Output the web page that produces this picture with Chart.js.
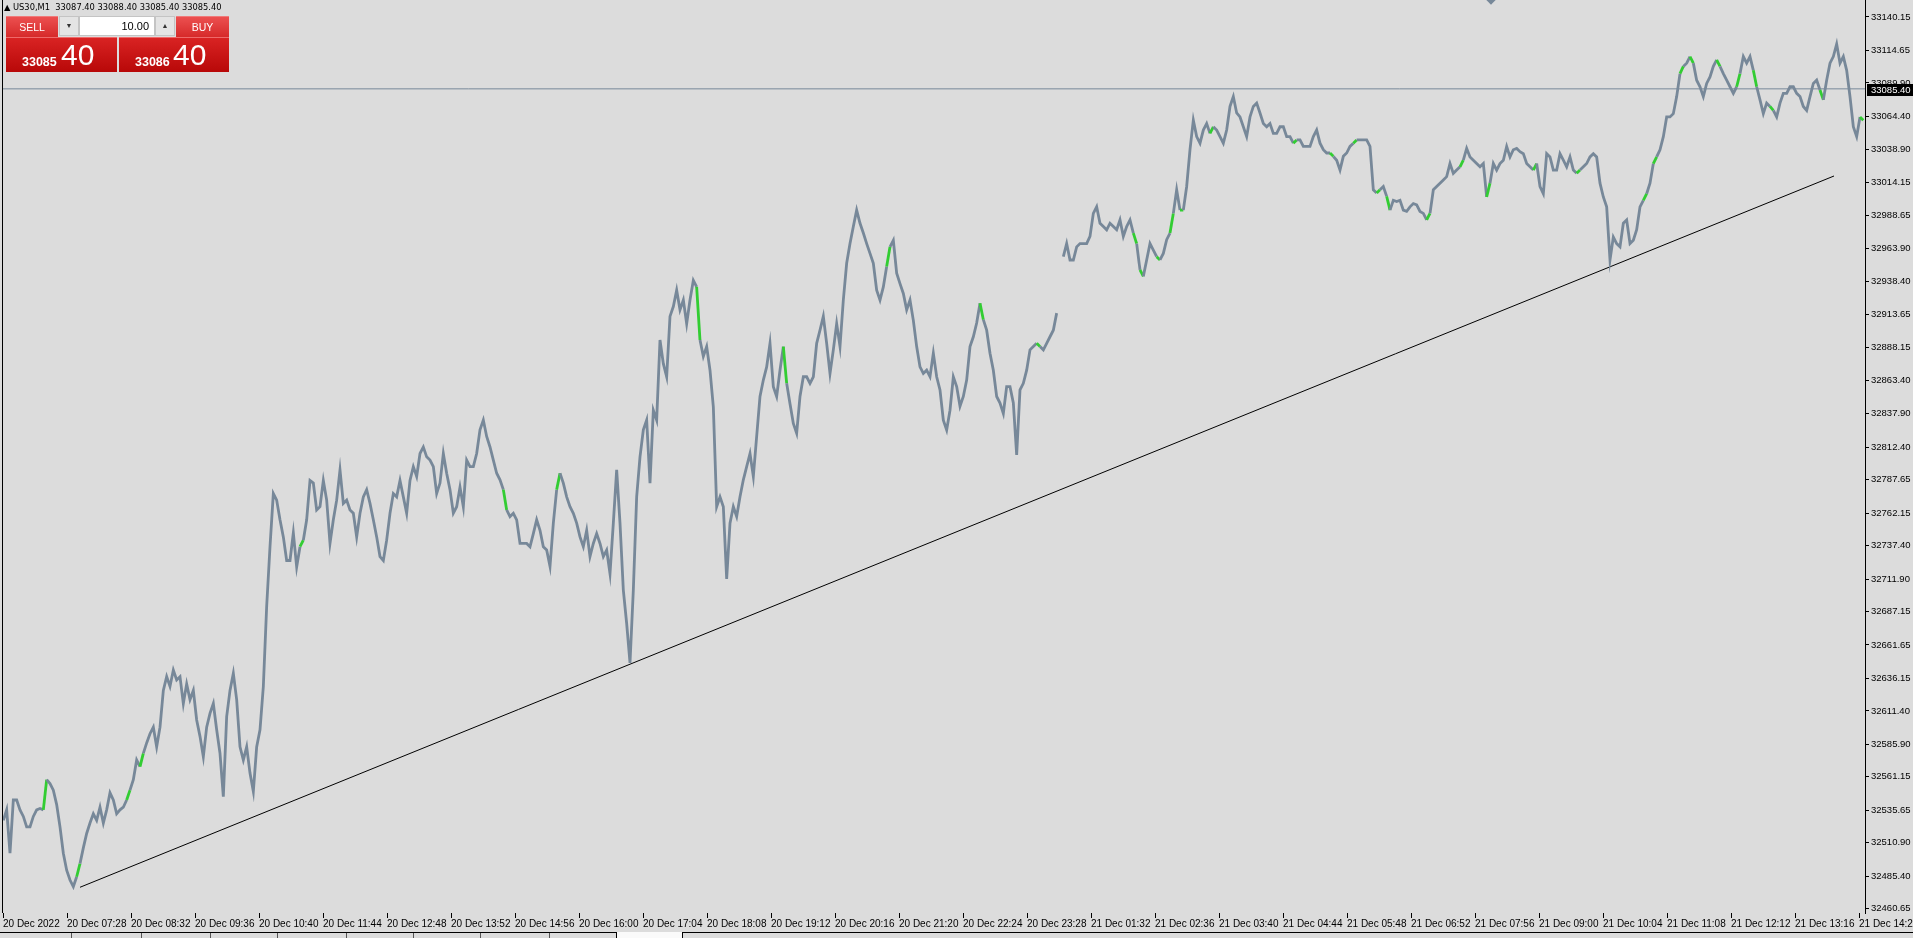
<!DOCTYPE html>
<html>
<head>
<meta charset="utf-8">
<title>US30,M1</title>
<script src="https://cdn.jsdelivr.net/npm/chart.js@4.4.0/dist/chart.umd.min.js"></script>
<style>
  html, body { margin: 0; padding: 0; background: #dcdcdc; overflow: hidden; }
  #wrap { position: relative; width: 1913px; height: 938px; }
  #chart { position: absolute; left: 0; top: 0; }
  .ov { position: absolute; box-sizing: border-box; font-family: "Liberation Sans", Arial, sans-serif; }
  #sym { left: 4px; top: 1px; font: 8.3px "DejaVu Sans", sans-serif; color: #000; white-space: pre; line-height: 12px; }
  .btn { height: 21px; color: #fff; font-size: 10.5px; text-align: center; line-height: 21px;
         background: linear-gradient(#ec5050, #d62a2a); border-top: 1px solid #f07a7a; }
  #sell { left: 6px; top: 16px; width: 52px; }
  #buy { left: 176px; top: 16px; width: 53px; }
  .spin { top: 16px; width: 20px; height: 20px; background: #e4e4e4; border: 1px solid #c4c4c4; color: #333;
          font-size: 7px; text-align: center; line-height: 18px; }
  #dn { left: 59px; }
  #up { left: 155px; }
  #lot { left: 79px; top: 16px; width: 76px; height: 20px; background: #fff; border: 1px solid #c4c4c4;
         font-size: 11px; text-align: right; padding-right: 5px; line-height: 18px; color: #000; }
  .big { top: 37px; height: 35px; background: linear-gradient(#d92323, #b80808); border-top: 1px solid #ee6a6a; color: #fff; }
  #bsell { left: 6px; width: 111px; }
  #bbuy { left: 119px; width: 110px; }
  .sm { position: absolute; top: 17px; font-weight: bold; font-size: 12.5px; }
  .lg { position: absolute; top: 1px; font-size: 30px; line-height: 32px; }
  #shift { left: 1487px; top: -5px; width: 8px; height: 8px; background: #778899; transform: rotate(45deg); }
  .tabline { top: 932px; height: 1px; background: #000; }
  #tabact { left: 616px; top: 932px; width: 67px; height: 6px; background: #fafafa; border-left: 1px solid #000; border-right: 1px solid #000; }
  .tabsep { top: 933px; width: 1px; height: 5px; background: #555; }
</style>
</head>
<body>
<div id="wrap">
  <canvas id="chart" width="1913" height="938"></canvas>
  <div id="sym" class="ov">&#9650; US30,M1  33087.40 33088.40 33085.40 33085.40</div>
  <div id="sell" class="ov btn">SELL</div>
  <div id="dn" class="ov spin">&#9660;</div>
  <div id="lot" class="ov">10.00</div>
  <div id="up" class="ov spin">&#9650;</div>
  <div id="buy" class="ov btn">BUY</div>
  <div id="bsell" class="ov big"><span class="sm" style="left:16px">33085</span><span class="lg" style="left:55px">40</span></div>
  <div id="bbuy" class="ov big"><span class="sm" style="left:16px">33086</span><span class="lg" style="left:54px">40</span></div>
  <div id="shift" class="ov"></div>
  <div class="ov tabline" style="left:0;width:616px"></div>
  <div class="ov tabline" style="left:683px;width:1230px"></div>
  <div id="tabact" class="ov"></div>
  <div class="ov tabsep" style="left:71px"></div>
  <div class="ov tabsep" style="left:141px"></div>
  <div class="ov tabsep" style="left:210px"></div>
  <div class="ov tabsep" style="left:277px"></div>
  <div class="ov tabsep" style="left:346px"></div>
  <div class="ov tabsep" style="left:413px"></div>
  <div class="ov tabsep" style="left:480px"></div>
  <div class="ov tabsep" style="left:549px"></div>
</div>
<script>
// time axis labels, one every 64 bars (M1)
const timeLabels = ["20 Dec 2022", "20 Dec 07:28", "20 Dec 08:32", "20 Dec 09:36", "20 Dec 10:40", "20 Dec 11:44",
  "20 Dec 12:48", "20 Dec 13:52", "20 Dec 14:56", "20 Dec 16:00", "20 Dec 17:04", "20 Dec 18:08", "20 Dec 19:12",
  "20 Dec 20:16", "20 Dec 21:20", "20 Dec 22:24", "20 Dec 23:28", "21 Dec 01:32", "21 Dec 02:36", "21 Dec 03:40",
  "21 Dec 04:44", "21 Dec 05:48", "21 Dec 06:52", "21 Dec 07:56", "21 Dec 09:00", "21 Dec 10:04", "21 Dec 11:08",
  "21 Dec 12:12", "21 Dec 13:16", "21 Dec 14:20"];

// price scale labels
const priceLabels = [33140.15, 33114.65, 33089.90, 33064.40, 33038.90, 33014.15, 32988.65, 32963.90, 32938.40,
  32913.65, 32888.15, 32863.40, 32837.90, 32812.40, 32787.65, 32762.15, 32737.40, 32711.90, 32687.15, 32661.65,
  32636.15, 32611.40, 32585.90, 32561.15, 32535.65, 32510.90, 32485.40, 32460.65];

// price path, one reading every 10/3 bars
const pricesMorning = [
  32528, 32536, 32503, 32543.5, 32543.5, 32536, 32531, 32523, 32523, 32531,
  32536, 32537, 32536, 32559, 32556, 32551, 32540, 32523, 32503, 32490,
  32482.5, 32477.5, 32485, 32495, 32507, 32518, 32526, 32533, 32528, 32538,
  32526, 32536, 32549, 32543.5, 32533, 32536, 32538, 32543.5, 32551, 32559,
  32574, 32569, 32579, 32587, 32594, 32599, 32584, 32599, 32627, 32637.5,
  32630, 32642.5, 32635, 32637.5, 32617, 32632, 32620, 32627, 32604.5, 32592,
  32576.5, 32599, 32609.5, 32617, 32597, 32579, 32546, 32607, 32627, 32640,
  32620, 32584, 32574, 32584, 32564, 32550, 32584, 32597, 32630, 32691,
  32736.5, 32777, 32772, 32757, 32744, 32726, 32726, 32747, 32721, 32736.5,
  32741.5, 32757, 32787, 32785, 32764.5, 32767, 32787, 32772, 32739, 32757,
  32772, 32795, 32769.5, 32772, 32764.5, 32762, 32744, 32762, 32774.5, 32780,
  32769.5, 32757, 32744, 32729, 32726, 32741.5, 32762, 32777, 32774.5, 32787,
  32774.5, 32762, 32787, 32797.5, 32790, 32807.5, 32812.5, 32805, 32802.5, 32797.5,
  32777, 32785, 32807.5, 32792.5, 32780, 32762, 32767, 32782, 32767, 32802.5,
  32797.5];
const pricesAfternoon = [
  32797.5, 32807.5, 32825.5, 32833, 32820.5, 32812.5, 32802.5, 32792.5, 32787.5, 32780,
  32764.5, 32759.5, 32762, 32757, 32739, 32739, 32739, 32736.5, 32746.5, 32757,
  32749, 32736.5, 32734, 32721.5, 32754.5, 32780, 32792.5, 32785, 32774.5, 32767,
  32762, 32754.5, 32744, 32736.5, 32749, 32729, 32739, 32746.5, 32739, 32729,
  32734, 32716, 32754.5, 32795, 32754.5, 32703.5, 32678, 32648, 32703.5, 32774.5,
  32805, 32825.5, 32833, 32785, 32840.5, 32833, 32894, 32876, 32866, 32912,
  32919.5, 32932, 32917, 32924.5, 32906.5, 32924.5, 32939.5, 32934.5, 32894, 32881.5,
  32889, 32871, 32843, 32767, 32774.5, 32767, 32712, 32754.5, 32767, 32759.5,
  32774.5, 32787.5, 32797.5, 32807.5, 32790, 32820.5, 32851, 32863.5, 32873.5, 32891.5,
  32858.5, 32851, 32871, 32889, 32861, 32845.5, 32830.5, 32823, 32851, 32866,
  32866, 32861, 32866, 32891.5, 32901.5, 32912, 32891.5, 32868.5, 32886.5, 32906.5,
  32889, 32924.5, 32952.5, 32967.5, 32980.5, 32993, 32983, 32975.5, 32967.5, 32960,
  32952.5, 32932, 32924.5, 32934.5, 32950, 32965, 32970, 32945, 32937, 32929.5,
  32917, 32924.5, 32909, 32889, 32873.5, 32868.5, 32871, 32866, 32884, 32866,
  32856];
const pricesNight = [
  32833, 32825.5, 32840.5, 32866, 32858.5, 32843.5, 32851, 32863.5, 32889, 32896.5,
  32907, 32922, 32909.5, 32901.5, 32884, 32871, 32851, 32846, 32838, 32858.5,
  32858.5, 32846, 32806.5, 32856, 32861, 32871, 32886.5, 32889, 32891.5, 32889,
  32886.5, 32891.5, 32896.5, 32901.5, 32914.5, null, 32957.5, 32967.5, 32955, 32955,
  32965, 32967.5, 32967.5, 32967.5, 32973, 32990.5, 32995.5, 32983, 32980.5, 32978,
  32983, 32980.5, 32978, 32985.5, 32973, 32980.5, 32985.5, 32975.5, 32967.5, 32947.5,
  32942.5, 32955, 32967.5, 32962.5, 32957.5, 32955, 32960, 32970.5, 32975.5, 32990.5,
  33008.5, 32993, 32993, 33011, 33039, 33061.5, 33049, 33044, 33054, 33059,
  33051.5, 33056.5, 33054, 33049, 33044, 33054, 33072, 33079.5, 33067, 33064,
  33056.5, 33049, 33064, 33072, 33074.5, 33067, 33059, 33056.5, 33059, 33051.5,
  33051.5, 33056.5, 33056.5, 33049, 33049, 33044, 33046.5, 33046.5, 33041.5, 33041.5,
  33041.5, 33049, 33054, 33044, 33039, 33036.5, 33036.5, 33034, 33031, 33023.5,
  33034, 33036.5, 33041.5, 33044, 33046.5, 33046.5, 33046.5, 33046.5, 33041.5, 33008.5,
  33006, 33008.5, 33011, 33003.5, 32993, 33000.5, 32999.5, 33000.5];
const pricesNextDay = [
  32993, 32992, 32995.5, 32998, 32997, 32992, 32990.5, 32985.5, 32990.5, 33008.5,
  33011, 33013.5, 33016, 33018.5, 33028.5, 33021, 33023.5, 33026, 33031, 33040,
  33033.5, 33031, 33028.5, 33026, 33028.5, 33003, 33013.5, 33028.5, 33023.5, 33028.5,
  33031, 33041.5, 33033.5, 33039, 33040, 33037.5, 33036, 33028.5, 33026, 33023.5,
  33028.5, 33011, 33005.5, 33036, 33033.5, 33023.5, 33023.5, 33036, 33031, 33026,
  33033.5, 33023.5, 33021, 33023.5, 33026, 33028.5, 33033.5, 33036, 33033.5, 33013.5,
  33003, 32995.5, 32955, 32972.5, 32967.5, 32965, 32983, 32985.5, 32967.5, 32970,
  32978, 32995.5, 33000.5, 33005.5, 33013.5, 33028.5, 33033.5, 33039, 33049, 33064,
  33064, 33066.5, 33079.5, 33097, 33102.5, 33105, 33110, 33105, 33092, 33087,
  33079.5, 33089.5, 33094.5, 33102.5, 33107.5, 33102.5, 33097, 33092, 33087, 33082,
  33087, 33097, 33110, 33105, 33110, 33099.5, 33087, 33077, 33066.5, 33074.5,
  33072, 33069, 33064, 33074.5, 33082, 33082, 33087, 33087, 33082, 33079.5,
  33072, 33069, 33079.5, 33089.5, 33092, 33084.5, 33077, 33092, 33105, 33110,
  33119.5, 33105, 33110, 33099.5, 33079.5, 33056.5, 33049, 33064, 33061.5];

// readings where the bars show up green
const greenReadings = [12, 22, 37, 41, 89, 150, 166, 208, 234, 265,
  293, 310, 339, 341, 346, 350, 353, 362, 387, 398, 405, 412, 415,
  427, 437, 445, 459, 472, 492, 495, 503, 506, 514, 520, 525, 530, 545, 557];

// trend line anchors (bar index, price)
const trendBars = [77, 1831];
const trendPrices = [32477.0, 33019.0];

const bidPrice = 33085.40;
const barsShown = 1862;
const sampleStep = 10 / 3;

const prices = pricesMorning.concat(pricesAfternoon, pricesNight, pricesNextDay);
const pricePoints = prices.map((p, i) => ({ x: (i + 1) * sampleStep - 3, y: p }));
const trendPoints = trendBars.map((b, i) => ({ x: b, y: trendPrices[i] }));
const bidPoints = [{ x: 0, y: bidPrice }, { x: barsShown, y: bidPrice }];
const greenSet = new Set(greenReadings);

const axisFont = { family: "'Liberation Sans', Arial, sans-serif", size: 10 };

const framePlugin = {
  id: 'frame',
  afterDraw(chart) {
    const { ctx, chartArea, scales } = chart;
    ctx.save();
    ctx.fillStyle = '#000';
    ctx.fillRect(chartArea.left - 1, chartArea.top, 1, chartArea.bottom - chartArea.top);
    // bid price tag on the price scale
    const y = Math.round(scales.y.getPixelForValue(bidPrice));
    ctx.fillRect(chartArea.right + 2, y - 5, 46, 12);
    ctx.fillStyle = '#fff';
    ctx.font = "9.5px 'Liberation Sans', Arial, sans-serif";
    ctx.textBaseline = 'middle';
    ctx.textAlign = 'left';
    ctx.fillText(bidPrice.toFixed(2), chartArea.right + 6, y + 1);
    ctx.restore();
  }
};

new Chart(document.getElementById('chart'), {
  type: 'line',
  data: {
    datasets: [
      {
        label: 'US30,M1', data: pricePoints, borderColor: '#778899', borderWidth: 2.8,
        pointRadius: 0, tension: 0, spanGaps: false,
        segment: { borderColor: c => greenSet.has(c.p0DataIndex) ? '#32cd32' : undefined }
      },
      { label: 'trend', data: trendPoints, borderColor: '#000', borderWidth: 1, pointRadius: 0 },
      { label: 'bid', data: bidPoints, borderColor: '#778899', borderWidth: 1, pointRadius: 0 }
    ]
  },
  options: {
    responsive: false,
    animation: false,
    devicePixelRatio: 1,
    events: [],
    layout: { padding: { left: 3, top: 0, right: 0, bottom: 0 }, autoPadding: false },
    plugins: { legend: { display: false }, tooltip: { enabled: false } },
    scales: {
      x: {
        type: 'linear',
        min: 0,
        max: barsShown,
        afterBuildTicks: s => { s.ticks = timeLabels.map((t, i) => ({ value: i * 64 })); },
        afterFit: s => { s.height = 25; s.paddingLeft = 0; s.paddingRight = 0; },
        grid: { drawOnChartArea: false, tickLength: 5, color: '#000' },
        border: { display: false },
        ticks: {
          autoSkip: false, maxRotation: 0, minRotation: 0, align: 'start', padding: 0, labelOffset: 0,
          color: '#000', font: axisFont,
          callback: (v, i) => timeLabels[i]
        }
      },
      y: {
        position: 'right',
        min: 32457.4,
        max: 33153.1,
        afterBuildTicks: s => { s.ticks = priceLabels.map(v => ({ value: v })); },
        afterFit: s => { s.width = 48; s.paddingTop = 0; s.paddingBottom = 0; },
        grid: { drawOnChartArea: false, tickLength: 4, color: '#000' },
        border: { display: true, color: '#000' },
        ticks: {
          padding: 2, color: '#000', font: { family: axisFont.family, size: 9.5 },
          callback: (v, i) => priceLabels[i].toFixed(2)
        }
      }
    }
  },
  plugins: [framePlugin]
});
</script>
</body>
</html>
